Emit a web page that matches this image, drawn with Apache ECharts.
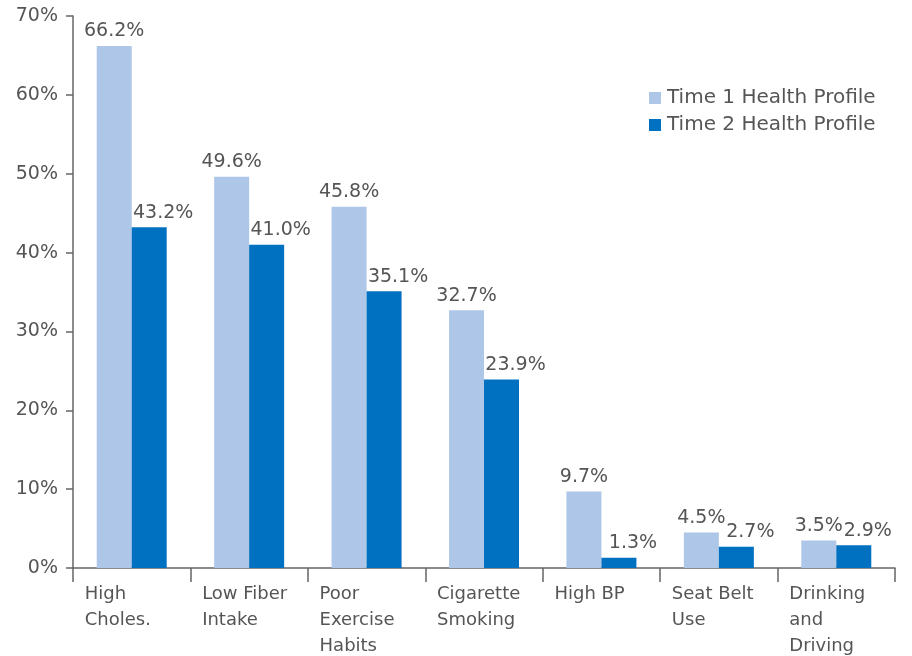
<!DOCTYPE html>
<html><head><meta charset="utf-8">
<script src="https://cdn.jsdelivr.net/npm/echarts@6/dist/echarts.min.js"></script>
<style>html,body{margin:0;padding:0;background:#fff}#c{width:912px;height:656px}</style>
</head><body><div id="c"></div>
<script>
const categories = ['High\nCholes.', 'Low Fiber\nIntake', 'Poor\nExercise\nHabits', 'Cigarette\nSmoking', 'High BP', 'Seat Belt\nUse', 'Drinking\nand\nDriving'];
const seriesNames = ['Time 1 Health Profile', 'Time 2 Health Profile'];
const time1 = [66.2, 49.6, 45.8, 32.7, 9.7, 4.5, 3.5];
const time2 = [43.2, 41.0, 35.1, 23.9, 1.3, 2.7, 2.9];
const yTicks = [0, 10, 20, 30, 40, 50, 60, 70];

const FONT = 'DejaVu Sans';
const TXT = '#555555';
const chart = echarts.init(document.getElementById('c'));
chart.setOption({
  animation: false,
  textStyle: { fontFamily: FONT },
  grid: { left: 73, right: 17, top: 16, bottom: 88, containLabel: false, outerBoundsMode: 'none' },
  legend: {
    orient: 'vertical', left: 644, top: 83, itemWidth: 12, itemHeight: 12, itemGap: 7,
    icon: 'rect',
    textStyle: { fontFamily: FONT, fontSize: 20, color: TXT, padding: [0, 0, 0, 1] },
    data: seriesNames
  },
  xAxis: {
    type: 'category', data: categories,
    axisLine: { lineStyle: { color: '#666', width: 1.5 } },
    axisTick: { show: true, length: 14, lineStyle: { color: '#666', width: 1.5 } },
    axisLabel: { fontFamily: FONT, fontSize: 18, color: TXT, lineHeight: 26, margin: 13, align: 'left', padding: [0, 0, 0, -47] }
  },
  yAxis: {
    type: 'value', min: yTicks[0], max: yTicks[yTicks.length - 1], interval: 10,
    splitLine: { show: false },
    axisLine: { show: true, lineStyle: { color: '#666', width: 1.5 } },
    axisTick: { show: true, length: 7, lineStyle: { color: '#666', width: 1.5 } },
    axisLabel: { fontFamily: FONT, fontSize: 19, color: TXT, margin: 15, formatter: v => v + '%' }
  },
  series: [
    { name: seriesNames[0], type: 'bar', data: time1, barWidth: 35, barGap: '0%',
      itemStyle: { color: '#aec6e8' },
      label: { show: true, position: 'top', distance: 5, fontFamily: FONT, fontSize: 19, color: TXT, formatter: p => p.value.toFixed(1) + '%' } },
    { name: seriesNames[1], type: 'bar', data: time2, barWidth: 35,
      itemStyle: { color: '#0070c0' },
      label: { show: true, position: 'top', distance: 5, offset: [14, 0], fontFamily: FONT, fontSize: 19, color: TXT, formatter: p => p.value.toFixed(1) + '%' } }
  ]
});
</script></body></html>
